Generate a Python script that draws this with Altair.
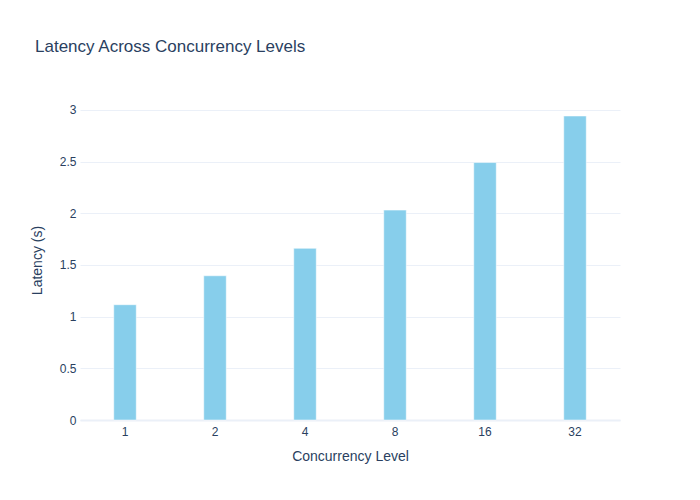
import altair as alt
import pandas as pd

levels = ["1", "2", "4", "8", "16", "32"]
latency = [1.115, 1.395, 1.66, 2.03, 2.49, 2.94]

font = "Liberation Sans"
ink = "#2a3f5f"
grid = "#EBF0F8"

df = pd.DataFrame({"level": levels, "latency": latency})

bars = alt.Chart(df).mark_bar(
    color="#87CEEB",
    stroke="white",
    strokeWidth=0.5,
    width=alt.RelativeBandSize(0.25),
).encode(
    x=alt.X("level:N", sort=levels,
            scale=alt.Scale(paddingInner=0, paddingOuter=0),
            axis=alt.Axis(title="Concurrency Level", labelAngle=0,
                          ticks=False, domain=True, domainColor=grid,
                          domainWidth=2, grid=False, labelPadding=6,
                          titlePadding=12)),
    y=alt.Y("latency:Q",
            scale=alt.Scale(domain=[0, 3.095], nice=False),
            axis=alt.Axis(title="Latency (s)", values=[0, 0.5, 1, 1.5, 2, 2.5, 3],
                          format="~g", ticks=False, domain=False, gridColor=grid,
                          labelPadding=4, titlePadding=15)),
)

chart = bars.properties(
    width=540,
    height=320,
    autosize=alt.AutoSizeParams(type="none"),
    padding={"left": 72, "top": 92, "right": 60, "bottom": 60},
    title=alt.TitleParams("Latency Across Concurrency Levels", anchor="start",
                          frame="group", dx=-45, offset=44,
                          fontSize=17, fontWeight="normal", color=ink, font=font),
).configure_axis(
    labelFont=font, titleFont=font, labelColor=ink, titleColor=ink,
    labelFontSize=12, titleFontSize=14, titleFontWeight="normal",
).configure_view(stroke=None)

chart.save("out.html", embed_options={"renderer": "svg", "actions": False})
